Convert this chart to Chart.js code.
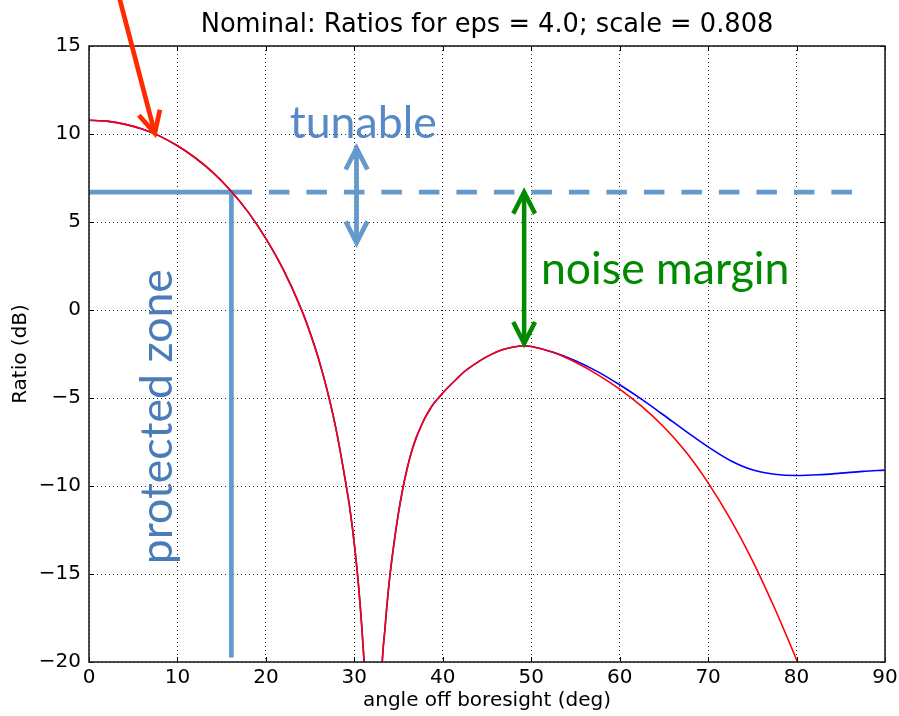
<!DOCTYPE html>
<html>
<head>
<meta charset="utf-8">
<script src="https://cdn.jsdelivr.net/npm/chart.js@4/dist/chart.umd.min.js"></script>
<style>
  html, body { margin: 0; padding: 0; background: #fff; }
  canvas { display: block; }
</style>
</head>
<body>
<canvas id="chart" width="899" height="716"></canvas>
<script>
// angle off boresight (deg) and ratio (dB)
const angles = [0, 2, 4, 6, 8, 10, 12, 14, 16, 18, 20, 22, 24, 25, 26, 27, 28, 29, 29.5, 30, 30.5, 31, 31.5, 32.2, 33, 33.5, 34, 34.5, 35, 35.5, 36, 36.5, 37, 37.5, 38, 38.5, 39, 39.6, 40.5, 41.5, 42.5, 44, 45, 46, 47, 48, 49.2, 50, 52.5, 55, 57.5, 60, 62.5, 65, 67.5, 70, 72.5, 75, 77.5, 80, 81];
const ratioRed = [10.78, 10.73, 10.56, 10.28, 9.88, 9.33, 8.65, 7.82, 6.79, 5.56, 4.06, 2.27, 0.05, -1.30, -2.85, -4.70, -6.94, -9.74, -11.3, -13.3, -15.8, -19.2, -24.0, -45, -22.0, -17.9, -15.2, -13.2, -11.5, -10.1, -8.95, -8.0, -7.25, -6.65, -6.12, -5.68, -5.3, -4.95, -4.45, -3.95, -3.48, -2.95, -2.65, -2.40, -2.22, -2.10, -2.03, -2.07, -2.42, -2.97, -3.67, -4.50, -5.48, -6.65, -8.07, -9.82, -11.87, -14.22, -16.92, -19.87, -21.1];

// blue curve follows the red one up to 50 deg, then levels off
const blueTailAngles = [52.5, 55, 57.5, 60, 62.5, 65, 67.5, 70, 72.5, 75, 77.5, 80, 82.5, 85, 87.5, 90];
const blueTailRatio  = [-2.40, -2.88, -3.50, -4.25, -5.08, -5.98, -6.90, -7.78, -8.55, -9.08, -9.33, -9.40, -9.36, -9.27, -9.17, -9.10];

const xTicks = [0, 10, 20, 30, 40, 50, 60, 70, 80, 90];
const yTicks = [-20, -15, -10, -5, 0, 5, 10, 15];
const titleText = 'Nominal: Ratios for eps = 4.0; scale = 0.808';

const redPts = angles.map((a, i) => ({ x: a, y: ratioRed[i] }));
const bluePts = redPts.filter(p => p.x <= 50)
  .concat(blueTailAngles.map((a, i) => ({ x: a, y: blueTailRatio[i] })));

// annotation anchors (data units)
const protectedDeg = 16.1, marginDb = 6.7, dashEndDeg = 86.3, zoneBottomDb = -19.75;
const tunableArrow = { x: 30.25, y1: 9.2, y2: 3.82 };
const noiseArrow   = { x: 49.2, y1: 6.69, y2: -1.9 };
const pointerArrow = { x1: 3.4, y1: 17.8, x2: 7.44, y2: 10.05 };

const LINE_BLUE = '#6399CC';
const TEXT_BLUE = '#5689C5';
const GREEN = '#008A00';
const MINUS = '\u2212';

function arrowHead(ctx, tx, ty, fx, fy, len, ang) {
  const a = Math.atan2(fy - ty, fx - tx);
  ctx.beginPath();
  ctx.moveTo(tx + len * Math.cos(a + ang), ty + len * Math.sin(a + ang));
  ctx.lineTo(tx, ty);
  ctx.lineTo(tx + len * Math.cos(a - ang), ty + len * Math.sin(a - ang));
  ctx.stroke();
}

function arrow(ctx, x1, y1, x2, y2, color, w, both) {
  ctx.save();
  ctx.strokeStyle = color;
  ctx.lineWidth = w;
  ctx.lineJoin = 'miter';
  ctx.lineCap = 'butt';
  ctx.beginPath();
  ctx.moveTo(x1, y1);
  ctx.lineTo(x2, y2);
  ctx.stroke();
  const ang = 27 * Math.PI / 180;
  arrowHead(ctx, x2, y2, x1, y1, 24, ang);
  if (both) arrowHead(ctx, x1, y1, x2, y2, 24, ang);
  ctx.restore();
}

const decorations = {
  id: 'decorations',
  beforeDatasetsDraw(chart) {
    const { ctx, scales: { x, y } } = chart;
    const px = x.getPixelForValue(protectedDeg);
    const py = y.getPixelForValue(marginDb);
    ctx.save();
    ctx.strokeStyle = LINE_BLUE;
    ctx.lineWidth = 4.7;
    ctx.lineCap = 'butt';
    ctx.beginPath();
    ctx.moveTo(x.getPixelForValue(0), py);
    ctx.lineTo(px, py);
    ctx.moveTo(px, py - 2);
    ctx.lineTo(px, y.getPixelForValue(zoneBottomDb));
    ctx.stroke();
    ctx.setLineDash([20.5, 17]);
    ctx.beginPath();
    ctx.moveTo(px, py);
    ctx.lineTo(x.getPixelForValue(dashEndDeg), py);
    ctx.stroke();
    ctx.restore();
  },
  afterDraw(chart) {
    const { ctx, chartArea: ca, scales: { x, y } } = chart;
    ctx.save();
    // title, centred over the plot
    ctx.fillStyle = '#000';
    ctx.font = '25.7px "DejaVu Sans"';
    ctx.textAlign = 'center';
    ctx.textBaseline = 'alphabetic';
    ctx.fillText(titleText, (ca.left + ca.right) / 2, 32);

    // inward ticks
    ctx.strokeStyle = '#000';
    ctx.lineWidth = 1;
    ctx.beginPath();
    xTicks.forEach(v => {
      const p = Math.round(x.getPixelForValue(v)) + 0.5;
      ctx.moveTo(p, ca.bottom); ctx.lineTo(p, ca.bottom - 5);
      ctx.moveTo(p, ca.top); ctx.lineTo(p, ca.top + 5);
    });
    yTicks.forEach(v => {
      const p = Math.round(y.getPixelForValue(v)) + 0.5;
      ctx.moveTo(ca.left, p); ctx.lineTo(ca.left + 5, p);
      ctx.moveTo(ca.right, p); ctx.lineTo(ca.right - 5, p);
    });
    ctx.stroke();
    // frame
    ctx.strokeStyle = '#222';
    ctx.lineWidth = 1.6;
    ctx.strokeRect(ca.left, ca.top, ca.right - ca.left, ca.bottom - ca.top);

    // arrows
    arrow(ctx, x.getPixelForValue(tunableArrow.x), y.getPixelForValue(tunableArrow.y1),
      x.getPixelForValue(tunableArrow.x), y.getPixelForValue(tunableArrow.y2), LINE_BLUE, 4.7, true);
    arrow(ctx, x.getPixelForValue(noiseArrow.x), y.getPixelForValue(noiseArrow.y1),
      x.getPixelForValue(noiseArrow.x), y.getPixelForValue(noiseArrow.y2), GREEN, 4.5, true);
    arrow(ctx, x.getPixelForValue(pointerArrow.x1), y.getPixelForValue(pointerArrow.y1),
      x.getPixelForValue(pointerArrow.x2), y.getPixelForValue(pointerArrow.y2), '#FF2A00', 4.7, false);

    // labels
    ctx.font = '44.6px Lato';
    ctx.textAlign = 'left';
    ctx.fillStyle = TEXT_BLUE;
    ctx.fillText('tunable', x.getPixelForValue(22.7), y.getPixelForValue(9.8));
    ctx.fillStyle = GREEN;
    ctx.fillText('noise margin', x.getPixelForValue(51.1), y.getPixelForValue(1.45));
    ctx.save();
    ctx.translate(x.getPixelForValue(9.37), y.getPixelForValue(-14.45));
    ctx.rotate(-Math.PI / 2);
    ctx.fillStyle = '#4A7DB8';
    ctx.fillText('protected zone', 0, 0);
    ctx.restore();
    ctx.restore();
  }
};

const tickFont = { family: 'DejaVu Sans', size: 20 };
const fmt = v => (v < 0 ? MINUS + Math.abs(v) : String(v));

new Chart(document.getElementById('chart'), {
  type: 'line',
  data: {
    datasets: [
      { label: 'red', data: redPts, borderColor: '#FF0000', borderWidth: 1.6, pointRadius: 0, cubicInterpolationMode: 'monotone', fill: false },
      { label: 'blue', data: bluePts, borderColor: '#0000FF', borderWidth: 1.6, pointRadius: 0, cubicInterpolationMode: 'monotone', fill: false },
    ],
  },
  options: {
    responsive: false,
    animation: false,
    devicePixelRatio: 1,
    layout: { padding: { left: 0, right: 14, top: 46, bottom: 0 } },
    plugins: {
      legend: { display: false },
      tooltip: { enabled: false },
      title: { display: false },
    },
    scales: {
      x: {
        type: 'linear', min: 0, max: 90,
        afterFit: s => { s.height = 54; s.paddingLeft = 0; s.paddingRight = 0; },
        ticks: { stepSize: 10, color: '#000', font: tickFont, padding: 4, maxRotation: 0, callback: fmt },
        grid: { color: 'rgba(0,0,0,0.85)', lineWidth: 1, drawTicks: false },
        border: { display: false, dash: [1, 3] },
        title: { display: true, text: 'angle off boresight (deg)', color: '#000', font: tickFont, padding: { top: 0, bottom: 3 } },
      },
      y: {
        type: 'linear', min: -20, max: 15,
        afterFit: s => { s.width = 89; },
        ticks: { stepSize: 5, color: '#000', font: tickFont, padding: 8, callback: fmt },
        grid: { color: 'rgba(0,0,0,0.85)', lineWidth: 1, drawTicks: false },
        border: { display: false, dash: [1, 3] },
        title: { display: true, text: 'Ratio (dB)', color: '#000', font: tickFont, padding: { top: 9, bottom: 0 } },
      },
    },
  },
  plugins: [decorations],
});
</script>
</body>
</html>
